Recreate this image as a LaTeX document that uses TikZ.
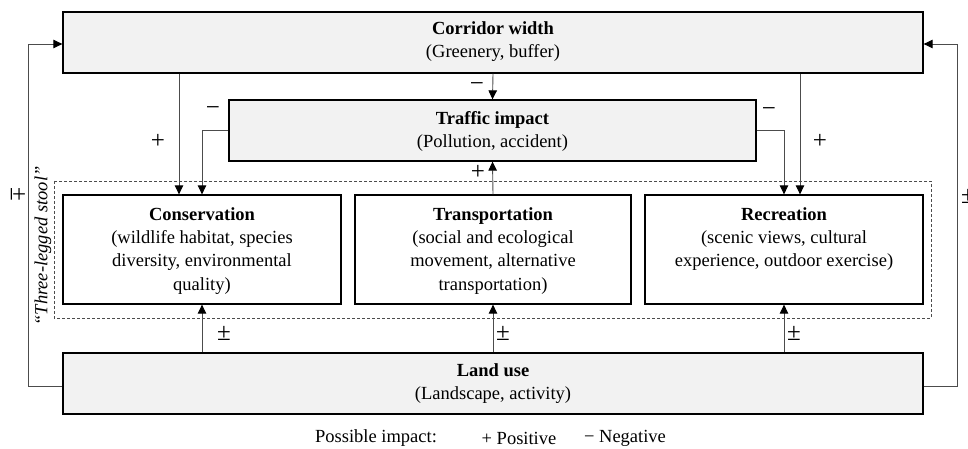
\documentclass[tikz,border=0pt]{standalone}
\usepackage{fontspec}
\setmainfont{Liberation Serif}
\usetikzlibrary{arrows.meta,calc}
\begin{document}
\begin{tikzpicture}[x=1pt,y=-1pt,
  box/.style={draw=black,line width=1.3pt,inner sep=0pt},
  gbox/.style={box,fill=black!5},
  txt/.style={align=center,font=\fontsize{18.5}{23.3}\selectfont,inner sep=0pt},
  lbl/.style={font=\fontsize{18.5}{23}\selectfont,inner sep=0pt},
  sgn/.style={font=\fontsize{25}{25}\selectfont,inner sep=0pt},
  arr/.style={draw=black!70,line width=0.9pt,-{Triangle[length=9pt,width=8.5pt,color=black]}},
  ]
\useasboundingbox (0,0) rectangle (968,449);
% dashed stool frame
\draw[draw=black!70,line width=0.7pt,dash pattern=on 3pt off 2pt] (54,181) rectangle (931,318);
% boxes
\node[gbox,minimum width=860pt,minimum height=61pt] (corr) at (493,42.5) {};
\node[txt] (corrT) at ($(corr)+(0,-1)$) {\textbf{Corridor width}\\(Greenery, buffer)};
\node[gbox,minimum width=527pt,minimum height=61pt] (traf) at (492.5,130.5) {};
\node[txt] (trafT) at ($(traf)+(0,1)$) {\textbf{Traffic impact}\\(Pollution, accident)};
\node[box,fill=white,minimum width=278pt,minimum height=109pt] (cons) at (202,249.5) {};
\node[txt,anchor=north] (consT) at ($(cons.north)+(0,13)$) {\textbf{Conservation}\\(wildlife habitat, species\\diversity, environmental\\quality)};
\node[box,fill=white,minimum width=276pt,minimum height=109pt] (trans) at (493,249.5) {};
\node[txt,anchor=north] (transT) at ($(trans.north)+(0,13)$) {\textbf{Transportation}\\(social and ecological\\movement, alternative\\transportation)};
\node[box,fill=white,minimum width=278pt,minimum height=109pt] (rec) at (784,249.5) {};
\node[txt,anchor=north] (recT) at ($(rec.north)+(0,13)$) {\textbf{Recreation}\\(scenic views, cultural\\experience, outdoor exercise)};
\node[gbox,minimum width=860pt,minimum height=61pt] (land) at (493,383.5) {};
\node[txt] (landT) at (land) {\textbf{Land use}\\(Landscape, activity)};
% helper coordinates
\coordinate (xa) at (179,0);
\coordinate (xb) at (800,0);
% connectors
\draw[arr] (xa |- corr.south) -- (xa |- cons.north);
\draw[arr] (traf.west) -| (cons.north);
\draw[arr] (xb |- corr.south) -- (xb |- rec.north);
\draw[arr] (traf.east) -| (rec.north);
\draw[arr] (corr.south) -- (traf.north);
\draw[arr] (trans.north) -- (traf.south);
\draw[arr] (cons.south |- land.north) -- (cons.south);
\draw[arr] (trans.south |- land.north) -- (trans.south);
\draw[arr] (rec.south |- land.north) -- (rec.south);
\draw[arr] ($(land.west)+(0,2.5)$) -- ++(-34,0) |- ($(corr.west)+(0,1.5)$);
\draw[arr] ($(land.east)+(0,2.5)$) -- ++(34,0) |- ($(corr.east)+(0,1.5)$);
% signs
\node[sgn] (s1) at (158,141) {+};
\node[sgn] (s2) at (213,111) {−};
\node[sgn] (s3) at (769,112) {−};
\node[sgn] (s4) at (820,141) {+};
\node[sgn] (s5) at (477,87) {−};
\node[sgn] (s6) at (478,172) {+};
\node[sgn] (s7) at (224,333) {±};
\node[sgn] (s8) at (503,333) {±};
\node[sgn] (s9) at (794,333) {±};
\node[sgn,rotate=-90] (s10) at (18,194) {±};
\node[sgn] (s11) at (968,196) {±};
% stool label
\node[lbl,rotate=90,font=\fontsize{18.5}{23}\selectfont\itshape] (stool) at (43,246) {“Three-legged stool”};
% legend
\node[lbl] (leg1) at (376,438) {Possible impact:};
\node[lbl] (leg2) at (519,438) {+ Positive};
\node[lbl] (leg3) at (625,438) {− Negative};
\end{tikzpicture}
\end{document}
